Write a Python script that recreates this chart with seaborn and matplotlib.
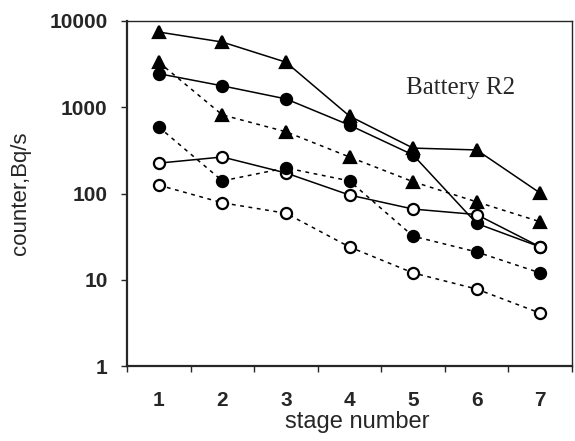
import numpy as np
import pandas as pd
import matplotlib
matplotlib.use("Agg")
import matplotlib.pyplot as plt
import matplotlib.ticker as mticker
import seaborn as sns

stages = [1, 2, 3, 4, 5, 6, 7]

tri_solid = [7450, 5700, 3330, 790, 336, 320, 101]
circ_solid = [2450, 1770, 1250, 620, 280, 45, 24]
open_solid = [225, 265, 173, 96, 66, 57, 24]
tri_dashed = [3330, 815, 520, 265, 137, 80, 47]
circ_dashed = [590, 140, 198, 140, 32, 21, 12]
open_dashed = [125, 78, 59, 24, 12, 7.8, 4.1]

y_ticks = [1, 10, 100, 1000, 10000]

dash = (0, (2.5, 3))
series = [
    ("tri_solid", tri_solid, "^", "black", "-"),
    ("circ_solid", circ_solid, "o", "black", "-"),
    ("open_solid", open_solid, "o", "white", "-"),
    ("tri_dashed", tri_dashed, "^", "black", dash),
    ("circ_dashed", circ_dashed, "o", "black", dash),
    ("open_dashed", open_dashed, "o", "white", dash),
]

sns.set_style("ticks")
plt.rcParams["font.family"] = ["Liberation Sans", "DejaVu Sans"]

fig = plt.figure(figsize=(5.75, 4.41), dpi=100)
ax = fig.add_axes([127 / 575, 1 - 366 / 441, (572 - 127) / 575, (366 - 21) / 441])

for name, vals, marker, face, ls in series:
    df = pd.DataFrame({"stage": stages, "value": vals})
    sns.lineplot(data=df, x="stage", y="value", ax=ax, color="black",
                 linestyle=ls, linewidth=1.1, marker=marker, markersize=8,
                 markerfacecolor=face, markeredgecolor="black",
                 markeredgewidth=1.6, legend=False)

ax.set_yscale("log")
ax.set_ylim(1, 10000)
ax.set_xlim(0.5, 7.5)
ax.yaxis.set_major_locator(mticker.FixedLocator(y_ticks))
ax.yaxis.set_major_formatter(mticker.FixedFormatter([str(v) for v in y_ticks]))
ax.yaxis.set_minor_locator(mticker.NullLocator())

# category labels centred between boundary ticks
ax.set_xticks(np.arange(0.5, 8.0, 1.0))
ax.set_xticklabels([])
ax.set_xticks(stages, minor=True)
ax.set_xticklabels([str(s) for s in stages], minor=True)
ax.tick_params(axis="x", which="minor", length=0, pad=18, labelsize=15)
ax.tick_params(axis="x", which="major", length=4, width=1, direction="out")
ax.tick_params(axis="y", which="major", length=4, width=1, direction="out",
               labelsize=15, pad=10)
for lbl in ax.get_xticklabels(minor=True) + ax.get_yticklabels():
    lbl.set_fontweight("bold")

for side in ["left", "bottom"]:
    ax.spines[side].set_linewidth(1.6)
for side in ["top", "right"]:
    ax.spines[side].set_visible(True)
    ax.spines[side].set_linewidth(1.0)
    ax.spines[side].set_linestyle((0, (3, 1)))

ax.set_xlabel("stage number", fontsize=17)
ax.set_ylabel("counter,Bq/s", fontsize=16)
ax.xaxis.set_label_coords((357 - 127) / 445, (366 - 411) / 345)
ax.yaxis.set_label_coords((31 - 127) / 445, (366 - 193) / 345)

ax.text(5.74, 1670, "Battery R2", fontsize=18,
        family=["Liberation Serif", "DejaVu Serif"], ha="center", va="center")

fig.savefig("out.png", dpi=100)
